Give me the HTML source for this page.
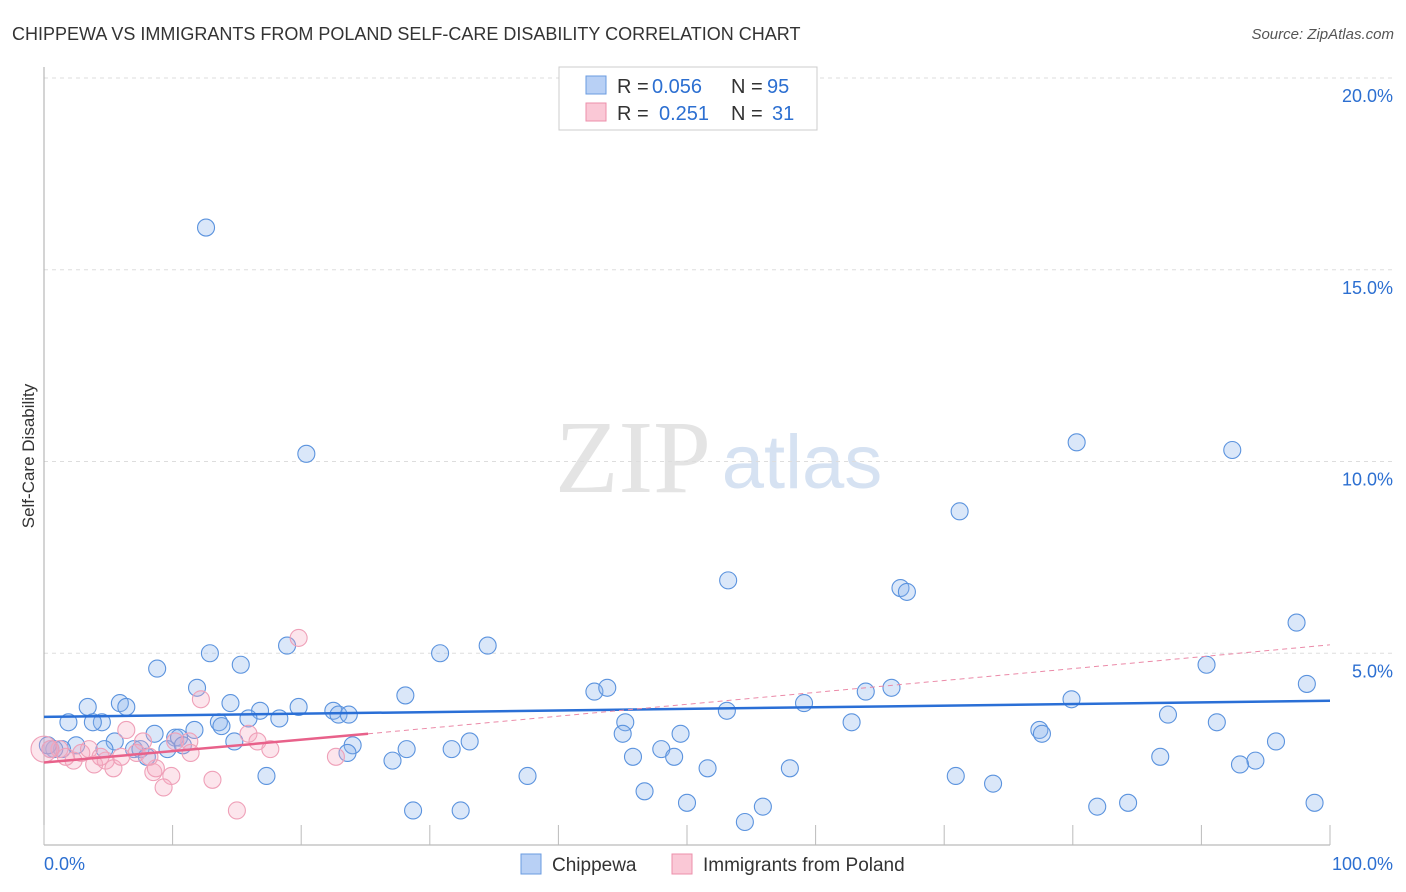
<!DOCTYPE html>
<html><head><meta charset="utf-8"><style>
body{margin:0;background:#fff;font-family:"Liberation Sans",sans-serif;}
#c{position:absolute;left:0;top:0;}
</style></head><body>
<svg id="c" width="1406" height="892">
<text x="12" y="40" font-size="18" fill="#333">CHIPPEWA VS IMMIGRANTS FROM POLAND SELF-CARE DISABILITY CORRELATION CHART</text>
<text x="1394" y="39" font-size="15" fill="#555" font-style="italic" text-anchor="end">Source: ZipAtlas.com</text>
<text x="34" y="456" font-size="17" fill="#333" text-anchor="middle" transform="rotate(-90 34 456)">Self-Care Disability</text>
<text x="633" y="492" font-size="104" fill="#e4e4e4" font-family="Liberation Serif,serif" text-anchor="middle">ZIP</text>
<text x="802" y="488" font-size="76" fill="#d6e2f2" text-anchor="middle">atlas</text>
<g id="grid"></g><g id="axes"></g><g id="pts"></g><g id="lines"></g>
<g>
<rect x="559" y="67" width="258" height="63" fill="#fff" stroke="#ccc"/>
<rect x="586" y="76" width="20" height="18" fill="#b8d0f5" stroke="#6a9be0"/>
<rect x="586" y="103" width="20" height="18" fill="#fac8d6" stroke="#ec8fab"/>
<text x="617" y="93" font-size="20" fill="#333">R =</text>
<text x="652" y="93" font-size="20" fill="#2c6fd1">0.056</text>
<text x="731" y="93" font-size="20" fill="#333">N =</text>
<text x="767" y="93" font-size="20" fill="#2c6fd1">95</text>
<text x="617" y="120" font-size="20" fill="#333">R =</text>
<text x="659" y="120" font-size="20" fill="#2c6fd1">0.251</text>
<text x="731" y="120" font-size="20" fill="#333">N =</text>
<text x="772" y="120" font-size="20" fill="#2c6fd1">31</text>
</g>
<g>
<rect x="521" y="854" width="20" height="20" fill="#b8d0f5" stroke="#6a9be0"/>
<text x="552" y="871" font-size="19" fill="#333">Chippewa</text>
<rect x="672" y="854" width="20" height="20" fill="#fac8d6" stroke="#ec8fab"/>
<text x="703" y="871" font-size="19" fill="#333">Immigrants from Poland</text>
</g>
</svg>
<script>
const yTicks=[5,10,15,20];
const xTickLabels=["0.0%","100.0%"];
const blueX=[12.6,20.4,80.3,92.4,71.2,53.2,66.6,67.1,97.4,34.5,30.8,12.9,8.8,15.3,18.9,90.4,98.2,11.9,28.1,42.8,43.8,63.9,65.9,79.9,3.4,5.9,6.4,14.5,16.8,19.8,22.5,22.9,23.7,18.3,15.9,53.1,59.1,87.4,4.5,1.9,3.8,13.6,13.8,11.7,45.2,62.8,91.2,8.6,10.2,10.5,5.5,14.8,45.0,49.5,77.4,77.6,2.5,1.4,0.8,0.5,4.7,7.0,7.5,9.6,10.8,24.0,33.1,28.2,8.0,23.6,31.7,48.0,49.0,45.8,86.8,95.8,94.2,93.0,27.1,51.6,58.0,17.3,37.6,70.9,73.8,46.7,50.0,81.9,84.3,98.8,28.7,32.4,55.9,54.5,0.3];
const blueY=[16.1,10.2,10.5,10.3,8.7,6.9,6.7,6.6,5.8,5.2,5.0,5.0,4.6,4.7,5.2,4.7,4.2,4.1,3.9,4.0,4.1,4.0,4.1,3.8,3.6,3.7,3.6,3.7,3.5,3.6,3.5,3.4,3.4,3.3,3.3,3.5,3.7,3.4,3.2,3.2,3.2,3.2,3.1,3.0,3.2,3.2,3.2,2.9,2.8,2.8,2.7,2.7,2.9,2.9,3.0,2.9,2.6,2.5,2.5,2.5,2.5,2.5,2.5,2.5,2.6,2.6,2.7,2.5,2.3,2.4,2.5,2.5,2.3,2.3,2.3,2.7,2.2,2.1,2.2,2.0,2.0,1.8,1.8,1.8,1.6,1.4,1.1,1.0,1.1,1.1,0.9,0.9,1.0,0.6,2.6];
const pinkX=[19.8,12.2,6.4,7.7,11.3,15.9,16.6,17.6,22.7,11.4,2.9,3.5,2.3,3.9,4.8,5.4,8.5,8.7,9.9,9.3,13.1,15.0,6.0,1.2,0.5,7.2,8.2,10.2,4.4,0.0,1.7];
const pinkY=[5.4,3.8,3.0,2.7,2.7,2.9,2.7,2.5,2.3,2.4,2.4,2.5,2.2,2.1,2.2,2.0,1.9,2.0,1.8,1.5,1.7,0.9,2.3,2.5,2.5,2.4,2.3,2.7,2.3,2.5,2.3];
const blueTrend=[[0,3.34],[100,3.76]];
const pinkTrend=[[0,2.15],[25.2,2.9],[100,5.22]];
const X=v=>44+v*12.86, Y=v=>845-v*38.35;
const NS="http://www.w3.org/2000/svg";
function mk(t,a,p){const e=document.createElementNS(NS,t);for(const k in a)e.setAttribute(k,a[k]);p.appendChild(e);return e;}
const grid=document.getElementById('grid'),axes=document.getElementById('axes'),pts=document.getElementById('pts'),lines=document.getElementById('lines');
yTicks.forEach(t=>{const l=mk('line',{x1:44,x2:1392,y1:Y(t),y2:Y(t),stroke:'#ddd','stroke-dasharray':'4,4'},grid);


const tx=mk('text',{x:1393,y:Y(t)+24,'font-size':18,fill:'#2c6fd1','text-anchor':'end'},axes);tx.textContent=t.toFixed(1)+'%';

});
const ya=mk('line',{x1:44,x2:44,y1:67,y2:845,stroke:'#aaa'},axes);


const xa=mk('line',{x1:44,x2:1330,y1:845,y2:845,stroke:'#aaa'},axes);


for(let i=0;i<=10;i++){const t=mk('line',{x1:X(i*10),x2:X(i*10),y1:825,y2:845,stroke:'#bbb'},axes);

}
[[X(0)+0,'start',xTickLabels[0]],[1393,'end',xTickLabels[1]]].forEach(([x,a,s])=>{const t=mk('text',{x:x,y:870,'font-size':18,fill:'#2c6fd1','text-anchor':a},axes);t.textContent=s;

});
blueX.forEach((v,i)=>{const c=mk('circle',{cx:X(v),cy:Y(blueY[i]),r:8.5,fill:'rgba(140,180,235,0.32)',stroke:'#5b93de','stroke-width':1.1},pts);

});
pinkX.forEach((v,i)=>{const c=mk('circle',{cx:X(v),cy:Y(pinkY[i]),r:i==29?13:8.5,fill:'rgba(245,170,192,0.3)',stroke:'#efa0b8','stroke-width':1.1},pts);

});
const bl=mk('line',{x1:X(blueTrend[0][0]),y1:Y(blueTrend[0][1]),x2:X(blueTrend[1][0]),y2:Y(blueTrend[1][1]),stroke:'#2a6fd6','stroke-width':2.5},lines);


const pl=mk('line',{x1:X(pinkTrend[0][0]),y1:Y(pinkTrend[0][1]),x2:X(pinkTrend[1][0]),y2:Y(pinkTrend[1][1]),stroke:'#e8618a','stroke-width':2.5},lines);


const pd=mk('line',{x1:X(pinkTrend[1][0]),y1:Y(pinkTrend[1][1]),x2:X(pinkTrend[2][0]),y2:Y(pinkTrend[2][1]),stroke:'#eb8aa8','stroke-width':1,'stroke-dasharray':'5,4'},lines);


</script>
</body></html>
